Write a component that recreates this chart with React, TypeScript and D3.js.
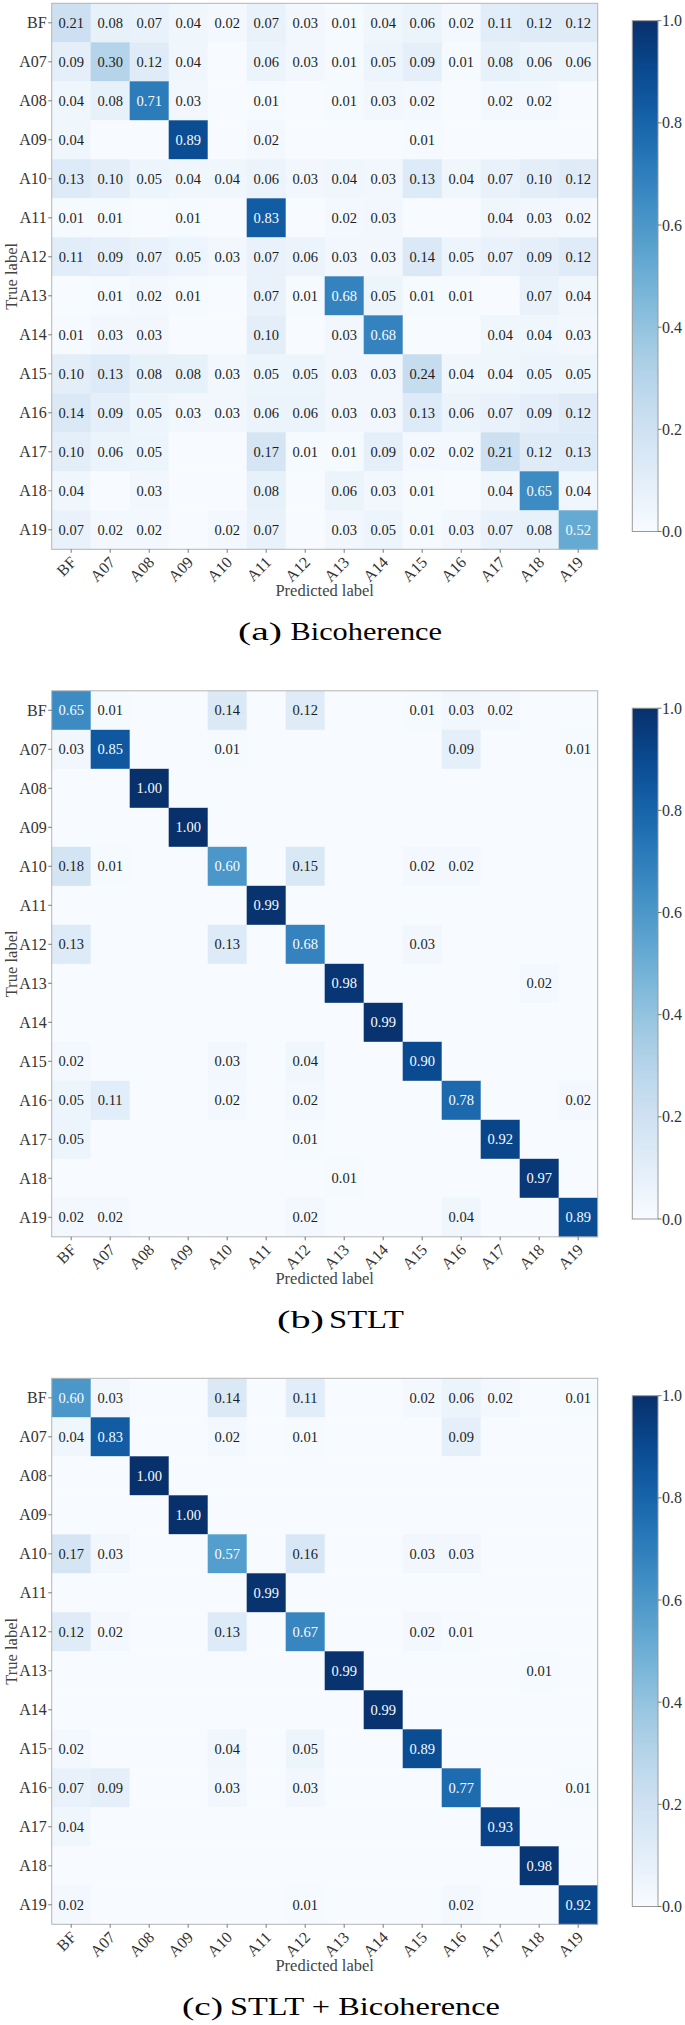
import React from 'react';
import * as d3 from 'd3';

const labels = ['BF', 'A07', 'A08', 'A09', 'A10', 'A11', 'A12', 'A13', 'A14', 'A15', 'A16', 'A17', 'A18', 'A19'];

const bicoherence: number[][] = [
  [0.21, 0.08, 0.07, 0.04, 0.02, 0.07, 0.03, 0.01, 0.04, 0.06, 0.02, 0.11, 0.12, 0.12],
  [0.09, 0.30, 0.12, 0.04, 0, 0.06, 0.03, 0.01, 0.05, 0.09, 0.01, 0.08, 0.06, 0.06],
  [0.04, 0.08, 0.71, 0.03, 0, 0.01, 0, 0.01, 0.03, 0.02, 0, 0.02, 0.02, 0],
  [0.04, 0, 0, 0.89, 0, 0.02, 0, 0, 0, 0.01, 0, 0, 0, 0],
  [0.13, 0.10, 0.05, 0.04, 0.04, 0.06, 0.03, 0.04, 0.03, 0.13, 0.04, 0.07, 0.10, 0.12],
  [0.01, 0.01, 0, 0.01, 0, 0.83, 0, 0.02, 0.03, 0, 0, 0.04, 0.03, 0.02],
  [0.11, 0.09, 0.07, 0.05, 0.03, 0.07, 0.06, 0.03, 0.03, 0.14, 0.05, 0.07, 0.09, 0.12],
  [0, 0.01, 0.02, 0.01, 0, 0.07, 0.01, 0.68, 0.05, 0.01, 0.01, 0, 0.07, 0.04],
  [0.01, 0.03, 0.03, 0, 0, 0.10, 0, 0.03, 0.68, 0, 0, 0.04, 0.04, 0.03],
  [0.10, 0.13, 0.08, 0.08, 0.03, 0.05, 0.05, 0.03, 0.03, 0.24, 0.04, 0.04, 0.05, 0.05],
  [0.14, 0.09, 0.05, 0.03, 0.03, 0.06, 0.06, 0.03, 0.03, 0.13, 0.06, 0.07, 0.09, 0.12],
  [0.10, 0.06, 0.05, 0, 0, 0.17, 0.01, 0.01, 0.09, 0.02, 0.02, 0.21, 0.12, 0.13],
  [0.04, 0, 0.03, 0, 0, 0.08, 0, 0.06, 0.03, 0.01, 0, 0.04, 0.65, 0.04],
  [0.07, 0.02, 0.02, 0, 0.02, 0.07, 0, 0.03, 0.05, 0.01, 0.03, 0.07, 0.08, 0.52],
];

const stlt: number[][] = [
  [0.65, 0.01, 0, 0, 0.14, 0, 0.12, 0, 0, 0.01, 0.03, 0.02, 0, 0],
  [0.03, 0.85, 0, 0, 0.01, 0, 0, 0, 0, 0, 0.09, 0, 0, 0.01],
  [0, 0, 1.00, 0, 0, 0, 0, 0, 0, 0, 0, 0, 0, 0],
  [0, 0, 0, 1.00, 0, 0, 0, 0, 0, 0, 0, 0, 0, 0],
  [0.18, 0.01, 0, 0, 0.60, 0, 0.15, 0, 0, 0.02, 0.02, 0, 0, 0],
  [0, 0, 0, 0, 0, 0.99, 0, 0, 0, 0, 0, 0, 0, 0],
  [0.13, 0, 0, 0, 0.13, 0, 0.68, 0, 0, 0.03, 0, 0, 0, 0],
  [0, 0, 0, 0, 0, 0, 0, 0.98, 0, 0, 0, 0, 0.02, 0],
  [0, 0, 0, 0, 0, 0, 0, 0, 0.99, 0, 0, 0, 0, 0],
  [0.02, 0, 0, 0, 0.03, 0, 0.04, 0, 0, 0.90, 0, 0, 0, 0],
  [0.05, 0.11, 0, 0, 0.02, 0, 0.02, 0, 0, 0, 0.78, 0, 0, 0.02],
  [0.05, 0, 0, 0, 0, 0, 0.01, 0, 0, 0, 0, 0.92, 0, 0],
  [0, 0, 0, 0, 0, 0, 0, 0.01, 0, 0, 0, 0, 0.97, 0],
  [0.02, 0.02, 0, 0, 0, 0, 0.02, 0, 0, 0, 0.04, 0, 0, 0.89],
];

const combined: number[][] = [
  [0.60, 0.03, 0, 0, 0.14, 0, 0.11, 0, 0, 0.02, 0.06, 0.02, 0, 0.01],
  [0.04, 0.83, 0, 0, 0.02, 0, 0.01, 0, 0, 0, 0.09, 0, 0, 0],
  [0, 0, 1.00, 0, 0, 0, 0, 0, 0, 0, 0, 0, 0, 0],
  [0, 0, 0, 1.00, 0, 0, 0, 0, 0, 0, 0, 0, 0, 0],
  [0.17, 0.03, 0, 0, 0.57, 0, 0.16, 0, 0, 0.03, 0.03, 0, 0, 0],
  [0, 0, 0, 0, 0, 0.99, 0, 0, 0, 0, 0, 0, 0, 0],
  [0.12, 0.02, 0, 0, 0.13, 0, 0.67, 0, 0, 0.02, 0.01, 0, 0, 0],
  [0, 0, 0, 0, 0, 0, 0, 0.99, 0, 0, 0, 0, 0.01, 0],
  [0, 0, 0, 0, 0, 0, 0, 0, 0.99, 0, 0, 0, 0, 0],
  [0.02, 0, 0, 0, 0.04, 0, 0.05, 0, 0, 0.89, 0, 0, 0, 0],
  [0.07, 0.09, 0, 0, 0.03, 0, 0.03, 0, 0, 0, 0.77, 0, 0, 0.01],
  [0.04, 0, 0, 0, 0, 0, 0, 0, 0, 0, 0, 0.93, 0, 0],
  [0, 0, 0, 0, 0, 0, 0, 0, 0, 0, 0, 0, 0.98, 0],
  [0.02, 0, 0, 0, 0, 0, 0.01, 0, 0, 0, 0.02, 0, 0, 0.92],
];

const captionLetters = ['(a)', '(b)', '(c)'];
const captionTitles = ['Bicoherence', 'STLT', 'STLT + Bicoherence'];
const colorbarTicks = [0, 0.2, 0.4, 0.6, 0.8, 1.0];

const FONT = "'Liberation Serif', serif";
const W = 685;
const H = 2025;
const PANEL_DY = 687.5;
const GX0 = 51.7, GX1 = 597.7, GY0 = 3.3, GY1 = 549.3;
const CB_X0 = 632.3, CB_X1 = 658, CB_Y0 = 20.7, CB_Y1 = 531.5;

// caption layout [letterX0, letterX1, titleX0, titleX1]
const captionBoxes = [
  [238, 282, 290.5, 442],
  [277, 324, 329, 404],
  [182, 223, 230, 500],
];

const color = d3.scaleSequential(d3.interpolateBlues).domain([0, 1]);

function Panel({ data, index }: { data: number[][]; index: number }) {
  const oy = index * PANEL_DY;
  const x = d3.scaleBand<string>().domain(labels).range([GX0, GX1]).padding(0);
  const y = d3.scaleBand<string>().domain(labels).range([GY0 + oy, GY1 + oy]).padding(0);
  const flat = data.flat();
  const thresh = ((d3.max(flat) as number) + (d3.min(flat) as number)) / 2;
  const cb = d3.scaleLinear().domain([0, 1]).range([CB_Y1 + oy, CB_Y0 + oy]);
  const gid = `cbgrad${index}`;
  const stops = d3.range(0, 1.0001, 0.05);
  const [lx0, lx1, tx0, tx1] = captionBoxes[index];
  const bw = x.bandwidth();
  const bh = y.bandwidth();
  return (
    <g>
      <defs>
        <linearGradient id={gid} x1="0" y1="1" x2="0" y2="0">
          {stops.map((s) => (
            <stop key={s} offset={s} stopColor={color(s)} />
          ))}
        </linearGradient>
      </defs>
      {data.map((row, i) =>
        row.map((v, j) => (
          <rect
            key={`r${i}-${j}`}
            x={x(labels[j])}
            y={y(labels[i])}
            width={bw + 0.3}
            height={bh + 0.3}
            fill={color(v)}
          />
        ))
      )}
      {data.map((row, i) =>
        row.map((v, j) =>
          v > 0 ? (
            <text
              key={`t${i}-${j}`}
              x={(x(labels[j]) as number) + bw / 2}
              y={(y(labels[i]) as number) + bh / 2 + 5}
              textAnchor="middle"
              fontSize={14.5}
              style={{ fontFamily: FONT }}
              fill={v >= thresh ? '#f7fbff' : '#1e1e1e'}
            >
              {v.toFixed(2)}
            </text>
          ) : null
        )
      )}
      <rect x={GX0} y={GY0 + oy} width={GX1 - GX0} height={GY1 - GY0} fill="none" stroke="#b5b5b5" strokeWidth={1} />
      {labels.map((l) => {
        const cy = (y(l) as number) + bh / 2;
        return (
          <g key={`y${l}`}>
            <line x1={GX0 - 3.5} x2={GX0} y1={cy} y2={cy} stroke="#555" strokeWidth={0.8} />
            <text x={GX0 - 5} y={cy + 5.5} textAnchor="end" fontSize={16} style={{ fontFamily: FONT }} fill="#333">
              {l}
            </text>
          </g>
        );
      })}
      {labels.map((l) => {
        const cx = (x(l) as number) + bw / 2;
        const tx = cx + 6;
        const ty = GY1 + oy + 14;
        return (
          <g key={`x${l}`}>
            <line x1={cx} x2={cx} y1={GY1 + oy} y2={GY1 + oy + 3.5} stroke="#555" strokeWidth={0.8} />
            <text
              transform={`translate(${tx},${ty}) rotate(-45)`}
              textAnchor="end"
              fontSize={16}
              style={{ fontFamily: FONT }}
              fill="#333"
            >
              {l}
            </text>
          </g>
        );
      })}
      <text
        x={(GX0 + GX1) / 2}
        y={GY1 + oy + 47}
        textAnchor="middle"
        fontSize={16.5}
        style={{ fontFamily: FONT }}
        fill="#444"
      >
        Predicted label
      </text>
      <text
        transform={`translate(17,${(GY0 + GY1) / 2 + oy}) rotate(-90)`}
        textAnchor="middle"
        fontSize={16.5}
        style={{ fontFamily: FONT }}
        fill="#444"
      >
        True label
      </text>
      <rect x={CB_X0} y={CB_Y0 + oy} width={CB_X1 - CB_X0} height={CB_Y1 - CB_Y0} fill={`url(#${gid})`} stroke="#999" strokeWidth={1} />
      {colorbarTicks.map((t) => (
        <g key={`cb${t}`}>
          <line x1={CB_X1} x2={CB_X1 + 3.5} y1={cb(t)} y2={cb(t)} stroke="#555" strokeWidth={0.8} />
          <text x={CB_X1 + 4} y={cb(t) + 5.5} fontSize={16} style={{ fontFamily: FONT }} fill="#333">
            {t.toFixed(1)}
          </text>
        </g>
      ))}
      <text
        x={lx0}
        y={oy + 640}
        fontSize={25.5}
        style={{ fontFamily: FONT }}
        fill="#000"
        textLength={lx1 - lx0}
        lengthAdjust="spacingAndGlyphs"
      >
        {captionLetters[index]}
      </text>
      <text
        x={tx0}
        y={oy + 640}
        fontSize={25.5}
        style={{ fontFamily: FONT }}
        fill="#000"
        textLength={tx1 - tx0}
        lengthAdjust="spacingAndGlyphs"
      >
        {captionTitles[index]}
      </text>
    </g>
  );
}

export default function App() {
  const panels = [bicoherence, stlt, combined];
  return (
    <svg
      width={W}
      height={H}
      viewBox={`0 0 ${W} ${H}`}
      style={{ position: 'absolute', left: 0, top: 0, background: '#fff' }}
    >
      <rect x={0} y={0} width={W} height={H} fill="#fff" />
      {panels.map((p, i) => (
        <Panel key={i} data={p} index={i} />
      ))}
    </svg>
  );
}
